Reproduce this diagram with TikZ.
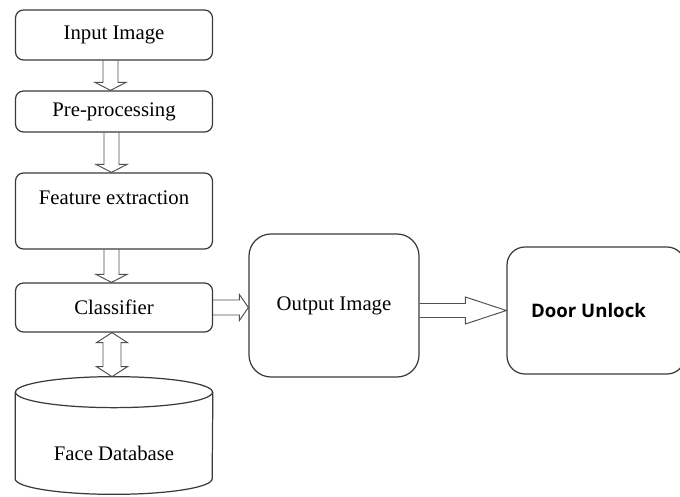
\documentclass[tikz,border=0pt]{standalone}
\usepackage{fontspec}
\setmainfont{Liberation Serif}
\newfontfamily\doorfont{Open Sans}
\usetikzlibrary{positioning,calc}

\definecolor{boxgray}{HTML}{3A3A3A}
\definecolor{arrgray}{HTML}{505050}

\begin{document}
\begin{tikzpicture}[%
    node distance=2cm,
    on grid,
    box/.style={draw=boxgray, line width=0.7pt, rounded corners=1.6mm,
      minimum width=39.4mm, font=\fontsize{11.8}{14}\selectfont},
    blk/.style n args={3}{to path={
      ($(\tikztotarget)!#3!(\tikztostart)$) coordinate (hb)
      ($(\tikztostart)!#1!90:(\tikztotarget)$) -- ($(hb)!#1!90:(\tikztotarget)$)
      -- ($(hb)!#2!90:(\tikztotarget)$) -- (\tikztotarget)
      -- ($(hb)!#2!-90:(\tikztotarget)$) -- ($(hb)!#1!-90:(\tikztotarget)$)
      -- ($(\tikztostart)!#1!-90:(\tikztotarget)$)}},
    blkboth/.style n args={3}{to path={
      ($(\tikztotarget)!#3!(\tikztostart)$) coordinate (hb)
      ($(\tikztostart)!#3!(\tikztotarget)$) coordinate (ht)
      (\tikztostart) -- ($(ht)!#2!90:(\tikztotarget)$) -- ($(ht)!#1!90:(\tikztotarget)$)
      -- ($(hb)!#1!90:(\tikztotarget)$) -- ($(hb)!#2!90:(\tikztotarget)$)
      -- (\tikztotarget) -- ($(hb)!#2!-90:(\tikztotarget)$)
      -- ($(hb)!#1!-90:(\tikztotarget)$) -- ($(ht)!#1!-90:(\tikztotarget)$)
      -- ($(ht)!#2!-90:(\tikztotarget)$) -- cycle}},
    arrline/.style={draw=arrgray, line width=0.55pt, line join=miter},
    dbline/.style={draw=boxgray, line width=0.7pt}
  ]
    \useasboundingbox (0,0) rectangle (136mm,-99.4mm);

    \node[box, minimum height=10mm] (inp) at (22.8mm,-7mm) {Input Image};
    \node[box, minimum height=8.2mm] (pre) [below=15.3mm of inp] {Pre-processing};
    \node[box, minimum height=15.2mm] (feat) [below=19.9mm of pre,
      label={[anchor=center, yshift=-5mm, font=\fontsize{11.8}{14}\selectfont]north:Feature extraction}] {};
    \node[box, minimum height=9.8mm] (cls) [below=19.3mm of feat] {Classifier};
    \node[minimum width=39.4mm, minimum height=23.4mm, inner sep=0pt] (db) [below=25.6mm of cls,
      label={[anchor=center, yshift=-3.5mm, font=\fontsize{11.8}{14}\selectfont]center:Face Database}] {};

    \node[box, rounded corners=4.4mm, minimum width=34mm, minimum height=28.6mm]
      (out) [right=44mm of cls, yshift=0.4mm] {Output Image};
    \node[box, rounded corners=3.6mm, minimum width=35.6mm, minimum height=25.4mm]
      (door) [right=52.4mm of out, yshift=-1mm,
      label={[anchor=west, xshift=3.7mm, font=\doorfont\bfseries\fontsize{10.6}{12}\selectfont]west:Door Unlock}] {};

    % database drum
    \draw[dbline] ($(db.north west)+(0,-3.1mm)$) -- ($(db.south west)+(0,3.1mm)$)
      arc[start angle=180, end angle=360, x radius=19.7mm, y radius=3.1mm]
      -- ($(db.north east)+(0,-3.1mm)$);
    \draw[dbline] ($(db.north)+(0,-3.1mm)$) ellipse[x radius=19.7mm, y radius=3.1mm];

    % arrows
    \draw[arrline] ($(inp.south)+(-0.7mm,0)$) to[blk={1.5mm}{3.1mm}{1.6mm}] ($(pre.north)+(-0.7mm,0)$);
    \draw[arrline] ($(pre.south)+(-0.5mm,0)$) to[blk={1.5mm}{3.1mm}{1.6mm}] ($(feat.north)+(-0.5mm,0)$);
    \draw[arrline] ($(feat.south)+(-0.5mm,0)$) to[blk={1.5mm}{3.1mm}{1.6mm}] ($(cls.north)+(-0.5mm,0)$);
    \draw[arrline] ($(cls.south)+(-0.4mm,0)$) to[blkboth={1.8mm}{3.1mm}{2mm}] ($(db.north)+(-0.4mm,0)$);
    \draw[arrline] (cls.east) to[blk={1.5mm}{2.6mm}{1.8mm}] (out.west |- cls.east);
    \draw[arrline] (out.east |- door.west) to[blk={1.4mm}{2.7mm}{8.2mm}] (door.west);
  \end{tikzpicture}
\end{document}
